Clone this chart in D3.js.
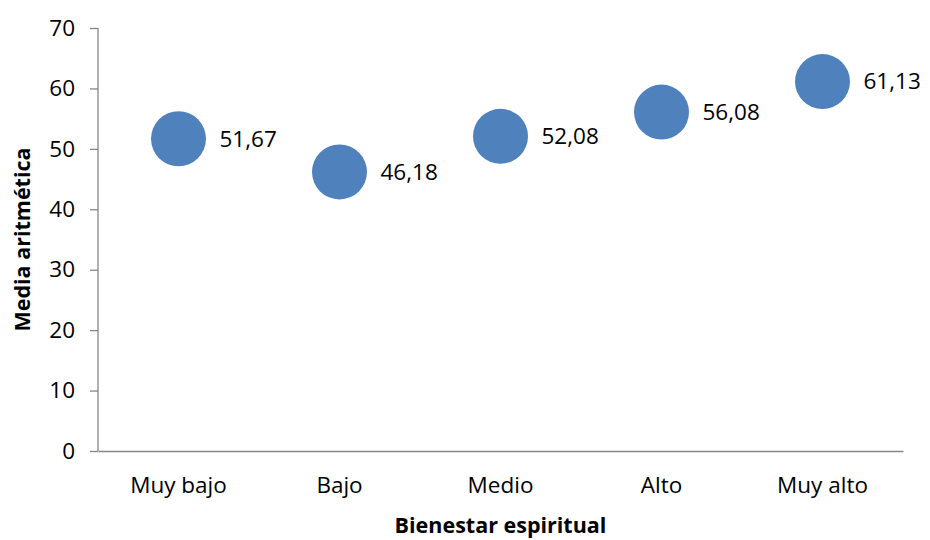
<!DOCTYPE html>
<html><head><meta charset="utf-8">
<script src="https://cdn.jsdelivr.net/npm/d3@7"></script>
<style>body{margin:0;background:#fff}svg{display:block}</style>
</head><body>
<script>
const categories = ["Muy bajo", "Bajo", "Medio", "Alto", "Muy alto"];
const values = [51.67, 46.18, 52.08, 56.08, 61.13];
const labels = ["51,67", "46,18", "52,08", "56,08", "61,13"];
const yTicks = [0, 10, 20, 30, 40, 50, 60, 70];

const W = 930, H = 540;
const m = {left: 98, right: 27, top: 28, bottom: 89};
const font = "'Open Sans', 'Liberation Sans', sans-serif";

const svg = d3.select("body").append("svg").attr("width", W).attr("height", H);
const x = d3.scaleBand().domain(categories).range([m.left, W - m.right]);
const y = d3.scaleLinear().domain([0, 70]).range([H - m.bottom, m.top]);

const gy = svg.append("g").attr("transform", `translate(${m.left},0)`)
  .call(d3.axisLeft(y).tickValues(yTicks).tickSize(8).tickPadding(15));
gy.selectAll("path,line").attr("stroke", "#868686").attr("stroke-width", 1.3);
gy.select(".domain").attr("d", `M0,${y(70)}V${y(0)}`);
gy.selectAll("line").attr("x2", -8);
gy.selectAll("text").attr("font-family", font).attr("font-size", 22.5).attr("fill", "#000");

const gx = svg.append("g").attr("transform", `translate(0,${y(0)})`)
  .call(d3.axisBottom(x).tickSize(0).tickPadding(26));
gx.select(".domain").attr("stroke", "#868686").attr("stroke-width", 1.3);
gx.selectAll("text").attr("font-family", font).attr("font-size", 22.5).attr("fill", "#000");

svg.append("g").selectAll("circle").data(values).join("circle")
  .attr("cx", (d, i) => x(categories[i]) + x.bandwidth() / 2)
  .attr("cy", d => y(d)).attr("r", 27.5).attr("fill", "#4F81BD");

svg.append("g").selectAll("text").data(values).join("text")
  .attr("x", (d, i) => x(categories[i]) + x.bandwidth() / 2 + 41)
  .attr("y", d => y(d)).attr("dy", "0.35em")
  .attr("font-family", font).attr("font-size", 22.5).attr("fill", "#000")
  .text((d, i) => labels[i]);

svg.append("text").attr("x", (m.left + W - m.right) / 2).attr("y", 533)
  .attr("text-anchor", "middle").attr("font-family", font).attr("font-weight", "bold")
  .attr("font-size", 21.5).text("Bienestar espiritual");

svg.append("text").attr("transform", `translate(30,${(y(0)+y(70))/2}) rotate(-90)`)
  .attr("text-anchor", "middle").attr("font-family", font).attr("font-weight", "bold")
  .attr("font-size", 21.5).text("Media aritmética");
</script>
</body></html>
